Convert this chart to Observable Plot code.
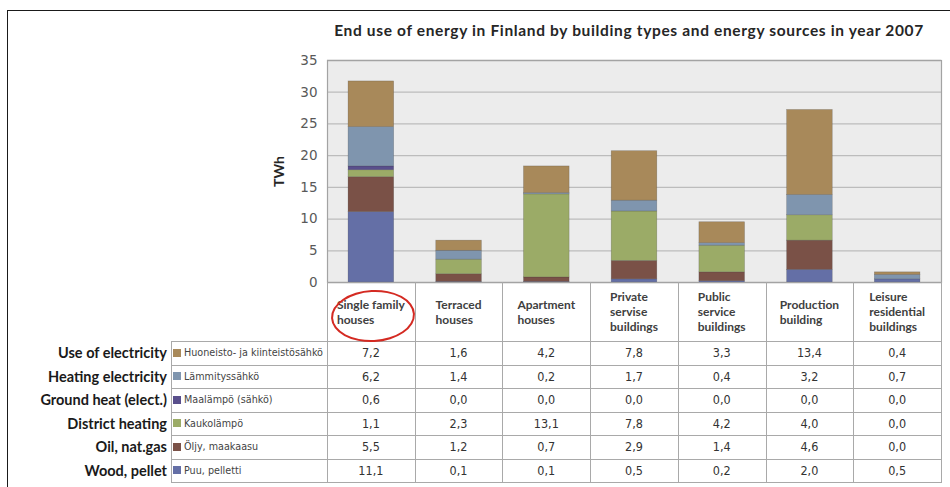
<!DOCTYPE html>
<html>
<head>
<meta charset="utf-8">
<script src="https://cdn.jsdelivr.net/npm/d3@7"></script>
<script src="https://cdn.jsdelivr.net/npm/@observablehq/plot@0.6"></script>
<style>
  body { margin: 0; background: #fff; }
  #root { position: relative; width: 950px; height: 487px; overflow: hidden; background: #fff; }
  #frameLine { position: absolute; left: 7px; top: 10px; right: -10px; bottom: -10px; border-left: 1.5px solid #1a1a1a; border-top: 1.5px solid #1a1a1a; }
  #title { position: absolute; left: 300px; width: 658px; top: 21px; text-align: center; font: bold 15.5px Lato, sans-serif; letter-spacing: 0.65px; color: #262626; white-space: nowrap; }
  #chart { position: absolute; left: 0; top: 0; }
  #chart g[aria-label="y-axis label"] text { font-weight: bold; font-family: Lato, sans-serif; font-size: 14px; fill: #262626; }
  .cell { position: absolute; box-sizing: border-box; display: flex; align-items: center; }
  .hdr { justify-content: center; font: bold 12px Lato, sans-serif; color: #404040; line-height: 15px; }
  .hdr span { text-align: left; }
  .val { justify-content: center; font: 12.5px "Liberation Sans Narrow", "DejaVu Sans Condensed", sans-serif; color: #333; }
  .leg { font: 10.7px "Liberation Sans Narrow", "DejaVu Sans Condensed", sans-serif; color: #444; padding-left: 2px; white-space: nowrap; overflow: hidden; }
  .sw { display: inline-block; flex-shrink: 0; width: 8px; height: 8px; margin-right: 3px; }
  .lab { justify-content: flex-end; font: bold 14.5px Lato, sans-serif; color: #1a1a1a; white-space: nowrap; }
  .hl { position: absolute; height: 1px; background: #a9a9a9; }
  .vl { position: absolute; width: 1px; background: #a9a9a9; }
  #circle { position: absolute; left: 331px; top: 290px; width: 80px; height: 48px; border: 2px solid #d42a22; border-radius: 50%; transform: rotate(-3deg); }
</style>
</head>
<body>
<div id="root">
  <div id="frameLine"></div>
  <div id="chart"></div>
  <div id="title">End use of energy in Finland by building types and energy sources in year 2007</div>
</div>
<script>
// ---- data ----
const categories = ["Single family houses", "Terraced houses", "Apartment houses", "Private servise buildings", "Public service buildings", "Production building", "Leisure residential buildings"];
const headerLabels = ["Single family\nhouses", "Terraced\nhouses", "Apartment\nhouses", "Private\nservise\nbuildings", "Public\nservice\nbuildings", "Production\nbuilding", "Leisure\nresidential\nbuildings"];
// table order (top to bottom)
const sources = ["Huoneisto- ja kiinteistösähkö", "Lämmityssähkö", "Maalämpö (sähkö)", "Kaukolämpö", "Öljy, maakaasu", "Puu, pelletti"];
const sourceLabelsEn = ["Use of electricity", "Heating electricity", "Ground heat (elect.)", "District heating", "Oil, nat.gas", "Wood, pellet"];
const sourceColors = ["#a8895a", "#7f95ae", "#594f8c", "#9bab67", "#7a5147", "#646fa6"];
const huoneisto = [7.2, 1.6, 4.2, 7.8, 3.3, 13.4, 0.4];
const lammitys  = [6.2, 1.4, 0.2, 1.7, 0.4, 3.2, 0.7];
const maalampo  = [0.6, 0.0, 0.0, 0.0, 0.0, 0.0, 0.0];
const kauko     = [1.1, 2.3, 13.1, 7.8, 4.2, 4.0, 0.0];
const oljy      = [5.5, 1.2, 0.7, 2.9, 1.4, 4.6, 0.0];
const puu       = [11.1, 0.1, 0.1, 0.5, 0.2, 2.0, 0.5];
const yTicks = [0, 5, 10, 15, 20, 25, 30, 35];

const seriesValues = [huoneisto, lammitys, maalampo, kauko, oljy, puu];

// stacked bottom to top: reverse of table order
const data = [];
for (let s = sources.length - 1; s >= 0; s--) {
  categories.forEach((c, i) => data.push({cat: c, source: sources[s], value: seriesValues[s][i]}));
}

const chart = Plot.plot({
  width: 950,
  height: 290,
  marginLeft: 327,
  marginRight: 9,
  marginTop: 60,
  marginBottom: 8,
  style: {background: "transparent", fontFamily: "'DejaVu Sans', sans-serif", fontSize: "13.5px", color: "#595959"},
  x: {domain: categories, paddingInner: 0.48, paddingOuter: 0.24, round: false, axis: null},
  y: {domain: [0, 35]},
  color: {domain: sources, range: sourceColors},
  marks: [
    Plot.frame({fill: "#ececec", stroke: null}),
    Plot.gridY(yTicks, {stroke: "#bcbcbc", strokeOpacity: 1, strokeWidth: 1.3}),
    Plot.barY(data, Plot.stackY({x: "cat", y: "value", fill: "source", stroke: "#3a3a3a", strokeWidth: 0.6, strokeOpacity: 0.35})),
    Plot.frame({stroke: "#a3a3a3", strokeWidth: 1.2}),
    Plot.axisY(yTicks, {tickSize: 0, tickPadding: 10, label: "TWh", labelAnchor: "center", labelArrow: false, labelOffset: 53})
  ]
});
document.getElementById("chart").appendChild(chart);

// ---- data table below the chart, aligned on the x scale ----
const root = document.getElementById("root");
const xs = chart.scale("x");
const step = xs.step, bw = xs.bandwidth;
const colLeft = c => xs.apply(c) - (step - bw) / 2;
const plotLeft = colLeft(categories[0]);
const plotRight = colLeft(categories[categories.length - 1]) + step;
const headerTop = 282, rowsTop = 341, rowH = 23.5;
const legendLeft = 171;

function el(cls, style, html) {
  const d = document.createElement("div");
  d.className = cls;
  Object.assign(d.style, style);
  if (html != null) d.innerHTML = html;
  root.appendChild(d);
  return d;
}

// header cells
categories.forEach((c, i) => {
  el("cell hdr", {left: colLeft(c) + "px", top: headerTop + "px", width: step + "px", height: (rowsTop - headerTop) + "px"},
     "<span>" + headerLabels[i].split("\n").join("<br>") + "</span>");
});
// rows
sources.forEach((s, r) => {
  const top = rowsTop + r * rowH;
  el("cell lab", {left: "0px", top: top + "px", width: "167px", height: rowH + "px"}, sourceLabelsEn[r]);
  el("cell leg", {left: legendLeft + "px", top: top + "px", width: (plotLeft - legendLeft) + "px", height: rowH + "px"},
     '<span class="sw" style="background:' + sourceColors[r] + '"></span>' + s);
  categories.forEach((c, i) => {
    el("cell val", {left: colLeft(c) + "px", top: top + "px", width: step + "px", height: rowH + "px"},
       seriesValues[r][i].toFixed(1).replace(".", ","));
  });
});
// grid lines
for (let k = 0; k <= sources.length; k++) {
  el("hl", {left: legendLeft + "px", top: (rowsTop + k * rowH) + "px", width: (plotRight - legendLeft + 1) + "px"});
}
el("vl", {left: legendLeft + "px", top: rowsTop + "px", height: (sources.length * rowH) + "px"});
categories.forEach(c => el("vl", {left: colLeft(c) + "px", top: headerTop + "px", height: (rowsTop + sources.length * rowH - headerTop) + "px"}));
el("vl", {left: plotRight + "px", top: headerTop + "px", height: (rowsTop + sources.length * rowH - headerTop) + "px"});

// red hand-drawn highlight
el("", {}, null).id = "circle";
</script>
</body>
</html>
